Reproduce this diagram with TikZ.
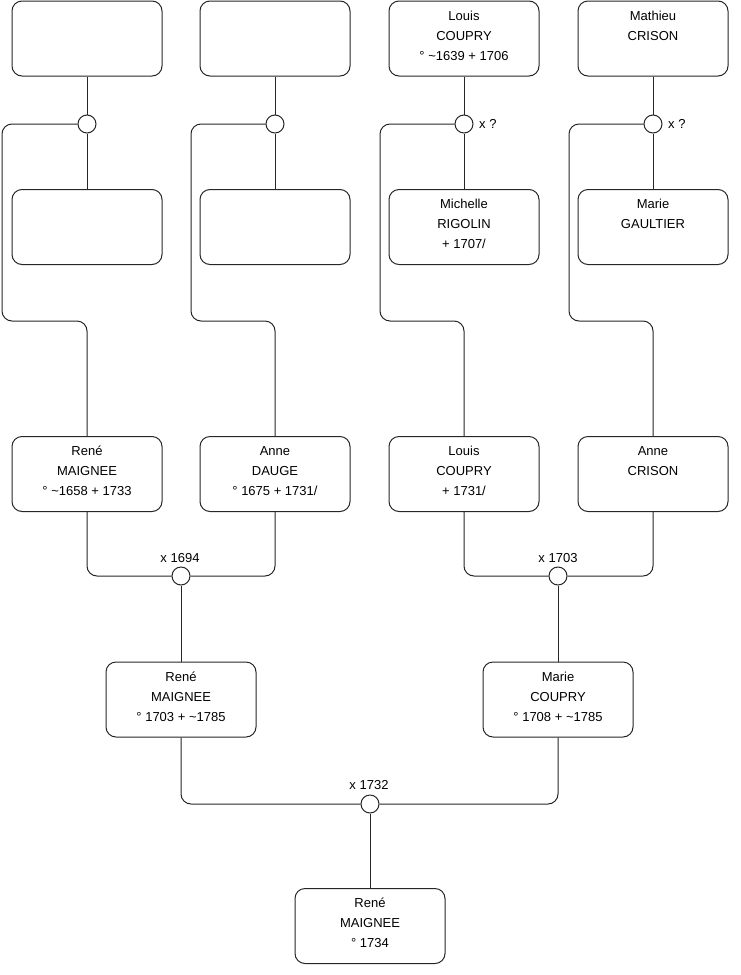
\documentclass[tikz,border=0pt]{standalone}
\usepackage{fontspec}
\setmainfont{Liberation Sans}
\newcommand\lastpad{\rule[-6pt]{0pt}{6pt}}
\begin{document}
\begin{tikzpicture}[x=1pt,y=-1pt,
 person/.style={draw=black!85, rounded corners=10pt, minimum width=150pt, minimum height=75pt,
   inner sep=0pt, align=center, font=\fontsize{13}{20}\selectfont, line width=1pt},
 union/.style={draw=black!85, circle, minimum size=18pt, inner sep=0pt, fill=white, line width=1pt},
 link/.style={line width=1pt, rounded corners=10pt, draw=black!85},
 lbl/.style={font=\fontsize{13}{15}\selectfont, inner sep=1pt}]
\useasboundingbox (0,0) rectangle (740,975);
% top row
\node[person] (t1) at (87,38.5) {};
\node[person] (t2) at (275,38.5) {};
\node[person] (t3) at (464,38.5) {Louis\\COUPRY\\° \textasciitilde 1639 + 1706\lastpad};
\node[person] (t4) at (653,38.5) {Mathieu\\CRISON\\\lastpad};
% second row
\node[person] (s1) at (87,227) {};
\node[person] (s2) at (275,227) {};
\node[person] (s3) at (464,227) {Michelle\\RIGOLIN\\+ 1707/\lastpad};
\node[person] (s4) at (653,227) {Marie\\GAULTIER\\\lastpad};
% unions top
\node[union] (u1) at (87,124) {};
\node[union] (u2) at (275,124) {};
\node[union] (u3) at (464,124) {};
\node[union] (u4) at (653,124) {};
\node[lbl, anchor=west] (l3) at (478,124) {x ?};
\node[lbl, anchor=west] (l4) at (667,124) {x ?};
% third row
\node[person] (m1) at (87,474) {René\\MAIGNEE\\° \textasciitilde 1658 + 1733\lastpad};
\node[person] (m2) at (275,474) {Anne\\DAUGE\\° 1675 + 1731/\lastpad};
\node[person] (m3) at (464,474) {Louis\\COUPRY\\+ 1731/\lastpad};
\node[person] (m4) at (653,474) {Anne\\CRISON\\\lastpad};
% unions middle
\node[union] (v1) at (181,576) {};
\node[union] (v2) at (558,576) {};
\node[lbl] (lv1) at (180,558) {x 1694};
\node[lbl] (lv2) at (558,558) {x 1703};
% fourth row
\node[person] (g1) at (181,699.5) {René\\MAIGNEE\\° 1703 + \textasciitilde 1785\lastpad};
\node[person] (g2) at (558,699.5) {Marie\\COUPRY\\° 1708 + \textasciitilde 1785\lastpad};
% bottom union
\node[union] (w) at (370,804) {};
\node[lbl] (lw) at (369,785) {x 1732};
\node[person] (p) at (370,926) {René\\MAIGNEE\\° 1734\lastpad};
% connectors top
\draw[link] (t1) -- (u1); \draw[link] (u1) -- (s1);
\draw[link] (t2) -- (u2); \draw[link] (u2) -- (s2);
\draw[link] (t3) -- (u3); \draw[link] (u3) -- (s3);
\draw[link] (t4) -- (u4); \draw[link] (u4) -- (s4);
\draw[link] (u1.west) -| (2,321) -| (m1.north);
\draw[link] (u2.west) -| (191,321) -| (m2.north);
\draw[link] (u3.west) -| (380,321) -| (m3.north);
\draw[link] (u4.west) -| (569,321) -| (m4.north);
% connectors middle
\draw[link] (m1.south) |- (v1.west);
\draw[link] (m2.south) |- (v1.east);
\draw[link] (m3.south) |- (v2.west);
\draw[link] (m4.south) |- (v2.east);
\draw[link] (v1) -- (g1);
\draw[link] (v2) -- (g2);
% bottom
\draw[link] (g1.south) |- (w.west);
\draw[link] (g2.south) |- (w.east);
\draw[link] (w) -- (p);
\end{tikzpicture}
\end{document}
